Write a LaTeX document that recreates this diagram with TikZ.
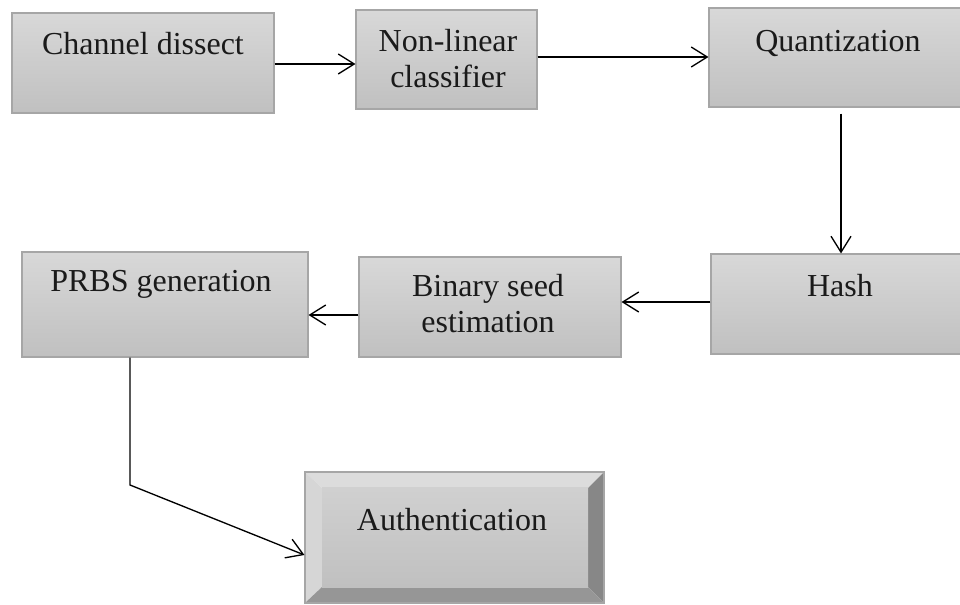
\documentclass[tikz,border=0pt]{standalone}
\usepackage{fontspec}
\setmainfont{Liberation Serif}
\usetikzlibrary{arrows.meta,fit,calc}
\definecolor{boxtop}{HTML}{D8D8D8}
\definecolor{boxbot}{HTML}{C0C0C0}
\definecolor{boxline}{HTML}{A6A6A6}
\definecolor{txtc}{HTML}{1A1A1A}
\begin{document}
\begin{tikzpicture}[x=0.75pt,y=-0.75pt,
  box/.style={draw=boxline, line width=0.8pt, top color=boxtop, bottom color=boxbot, inner sep=0pt},
  txt/.style={anchor=base, text=txtc, font=\fontsize{24}{27}\selectfont, align=center, inner sep=0pt},
  conn/.style={draw=black, line width=1pt, -{Straight Barb[length=12pt,width=15pt,line width=1pt]}}]
\useasboundingbox (0,0) rectangle (960,605);
% boxes
\node[box, fit={(12,13) (274,113)}] (cd) {};
\node[box, fit={(356,10) (537,109)}] (nlc) {};
\node[box, fit={(709,8) (965,107)}] (q) {};
\node[box, fit={(711,254) (965,354)}] (hash) {};
\node[box, fit={(359,257) (621,357)}] (bse) {};
\node[box, fit={(22,252) (308,357)}] (prbs) {};
% beveled authentication box
\coordinate (ao1) at (305,472); \coordinate (ao2) at (604,472);
\coordinate (ao3) at (604,603); \coordinate (ao4) at (305,603);
\coordinate (ai1) at (322,488); \coordinate (ai2) at (588,488);
\coordinate (ai3) at (588,587); \coordinate (ai4) at (322,587);
\fill[color={rgb,255:red,220;green,220;blue,220}] (ao1) -- (ao2) -- (ai2) -- (ai1) -- cycle;
\fill[color={rgb,255:red,214;green,214;blue,214}] (ao1) -- (ai1) -- (ai4) -- (ao4) -- cycle;
\fill[color={rgb,255:red,135;green,135;blue,135}] (ao2) -- (ao3) -- (ai3) -- (ai2) -- cycle;
\fill[color={rgb,255:red,150;green,150;blue,150}] (ao4) -- (ai4) -- (ai3) -- (ao3) -- cycle;
\node[box, draw=none, top color={rgb,255:red,208;green,208;blue,208}, bottom color={rgb,255:red,192;green,192;blue,192}, fit={(ai1) (ai3)}] (authin) {};
\node[draw=boxline, line width=0.8pt, inner sep=0pt, fit={(ao1) (ao3)}] (auth) {};
% texts
\node[txt] at (143,55) {Channel dissect};
\node[txt] at (448,88) {Non-linear\\classifier};
\node[txt] at (838,52) {Quantization};
\node[txt] at (840,297) {Hash};
\node[txt] at (488,333) {Binary seed\\estimation};
\node[txt] at (161,292) {PRBS generation};
\node[txt] at (452,530) {Authentication};
% connectors
\draw[conn] (cd.east |- 0,64) -- (nlc.west |- 0,64);
\draw[conn] (nlc.east |- 0,57) -- (q.west |- 0,57);
\draw[conn] ($(q.south -| 841,0)+(0,6)$) -- (hash.north -| 841,0);
\draw[conn] (hash.west |- 0,302) -- (bse.east |- 0,302);
\draw[conn] (bse.west |- 0,315) -- (prbs.east |- 0,315);
\draw[conn] (prbs.south -| 130,0) -- (130,485) -- (auth.west |- 0,555);
\end{tikzpicture}
\end{document}
